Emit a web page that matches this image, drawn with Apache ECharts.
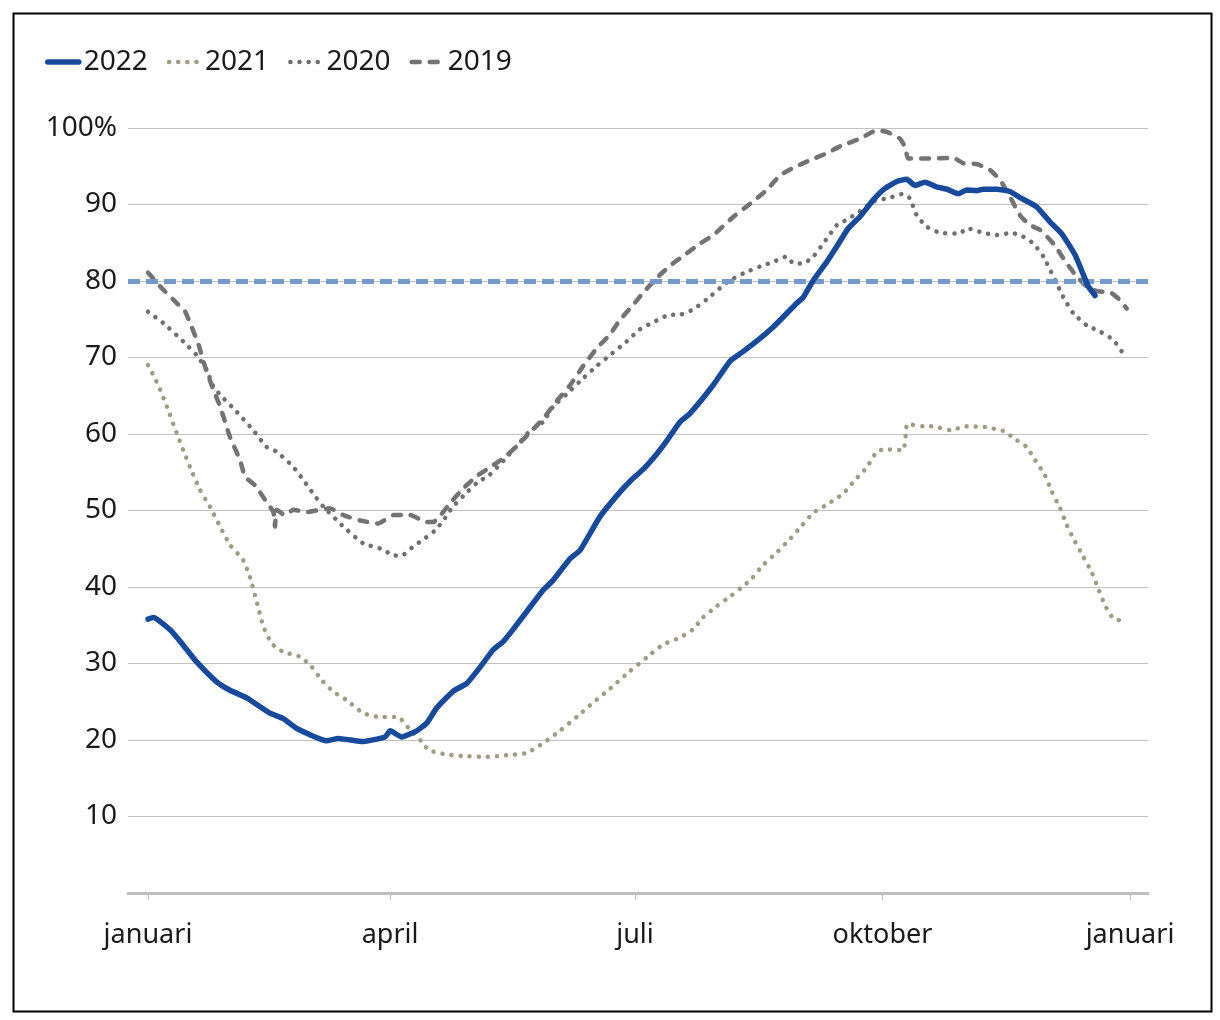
<!DOCTYPE html>
<html>
<head>
<meta charset="utf-8">
<script src="https://cdn.jsdelivr.net/npm/echarts@6/dist/echarts.min.js"></script>
<style>
html,body{margin:0;padding:0;background:#fff;}
#c{width:1220px;height:1020px;}
</style>
</head>
<body>
<div id="c"></div>
<script>
// x positions are day-of-year
const tickDays = [0, 90, 181, 273, 365];
const tickNames = ['januari', 'april', 'juli', 'oktober', 'januari'];
const target = 80;

const days2022 = [0, 2.0, 8.2, 13.1, 18.1, 25.5, 30.5, 36.7, 45.3, 50.3, 55.3, 66.4, 70.7, 80.0, 88.1, 90.0, 94.3, 99.9, 103.6, 107.3, 113.5, 118.5, 123.4, 128.3, 132.1, 135.8, 140.8, 146.9, 150.6, 156.9, 160.6, 168.0, 175.4, 179.1, 184.1, 189.1, 192.8, 197.8, 201.5, 210.1, 216.3, 221.3, 227.5, 232.4, 236.1, 241.1, 243.6, 247.3, 252.3, 256.0, 260.3, 264.6, 269.6, 273.9, 278.3, 282.0, 285.1, 288.8, 293.1, 296.9, 301.2, 304.3, 308.0, 310.5, 315.5, 320.4, 324.1, 330.3, 335.3, 339.6, 344.6, 347.7, 349.5, 352.0];
const vals2022 = [35.8, 36.0, 34.4, 32.4, 30.2, 27.6, 26.5, 25.5, 23.5, 22.8, 21.5, 19.9, 20.2, 19.8, 20.4, 21.2, 20.4, 21.2, 22.2, 24.2, 26.4, 27.4, 29.5, 31.8, 32.9, 34.5, 36.8, 39.6, 40.9, 43.7, 44.8, 49.2, 52.4, 53.8, 55.4, 57.4, 59.1, 61.6, 62.7, 66.4, 69.5, 70.8, 72.5, 74.0, 75.3, 77.1, 77.9, 80.1, 82.5, 84.5, 86.9, 88.4, 90.6, 92.1, 93.0, 93.3, 92.5, 92.9, 92.3, 92.0, 91.4, 91.9, 91.8, 92.0, 92.0, 91.7, 90.9, 89.7, 87.7, 86.2, 83.4, 80.8, 79.3, 78.1];

const days2021 = [0, 2.0, 4.5, 7.0, 10.7, 13.1, 15.6, 19.3, 23.0, 26.8, 30.5, 35.4, 37.9, 40.4, 42.9, 46.0, 50.3, 56.5, 60.8, 64.6, 68.9, 73.9, 80.0, 86.2, 93.0, 97.4, 101.7, 104.2, 111.0, 117.2, 125.9, 133.3, 140.8, 146.9, 153.1, 159.3, 165.5, 171.7, 179.1, 185.4, 191.5, 197.8, 202.7, 206.2, 211.4, 216.9, 221.9, 224.4, 228.7, 233.7, 238.4, 243.0, 247.3, 252.9, 258.4, 262.8, 267.1, 270.9, 273.9, 280.7, 281.7, 282.2, 288.2, 291.9, 298.1, 304.3, 311.1, 317.9, 322.9, 326.6, 329.7, 333.4, 335.9, 339.0, 341.5, 344.6, 347.6, 350.8, 353.2, 355.7, 358.8, 363.1];
const vals2021 = [69.0, 67.7, 65.8, 63.6, 60.1, 57.9, 55.7, 52.7, 50.5, 47.9, 45.5, 43.5, 41.3, 38.1, 34.8, 32.6, 31.5, 30.9, 29.6, 27.8, 26.3, 25.2, 23.5, 23.0, 23.0, 21.3, 19.8, 18.7, 18.1, 17.9, 17.8, 18.0, 18.3, 19.6, 21.2, 23.0, 24.9, 26.7, 29.0, 30.8, 32.5, 33.4, 34.5, 36.0, 37.5, 38.9, 40.3, 41.1, 42.9, 44.5, 46.2, 48.0, 49.7, 50.9, 52.2, 54.0, 55.6, 57.7, 58.0, 57.9, 60.1, 61.3, 61.0, 61.0, 60.5, 61.0, 60.9, 60.4, 59.2, 58.3, 56.6, 54.6, 52.5, 50.3, 48.1, 45.9, 44.0, 41.9, 39.8, 37.6, 35.9, 35.5];

const days2020 = [0, 5.7, 13.1, 18.1, 21.8, 24.3, 27.4, 33.0, 39.1, 44.1, 47.8, 54.0, 57.7, 61.4, 65.2, 72.6, 80.0, 87.5, 91.2, 94.9, 98.6, 102.3, 106.7, 109.8, 112.9, 117.2, 122.2, 127.1, 132.1, 137.0, 141.4, 146.9, 150.6, 155.6, 160.6, 166.8, 171.7, 177.9, 182.9, 187.8, 194.0, 197.8, 202.7, 207.7, 215.1, 221.3, 227.5, 232.4, 237.4, 239.9, 243.6, 247.3, 251.0, 256.0, 259.7, 264.6, 269.6, 275.8, 280.7, 283.2, 285.7, 289.4, 294.4, 301.8, 304.3, 310.5, 315.5, 321.0, 325.3, 329.1, 332.8, 336.5, 340.2, 343.9, 348.9, 353.8, 358.8, 362.5];
const vals2020 = [76.0, 74.5, 72.1, 70.3, 68.4, 66.2, 64.9, 62.9, 60.5, 58.3, 57.7, 55.7, 54.0, 52.2, 50.5, 47.9, 45.7, 44.9, 44.1, 44.2, 45.3, 46.2, 47.4, 48.7, 50.3, 51.9, 53.6, 54.7, 56.5, 58.4, 60.2, 61.6, 63.6, 65.2, 66.9, 68.9, 70.3, 72.1, 73.7, 74.6, 75.6, 75.6, 76.3, 77.6, 79.8, 81.0, 81.9, 82.5, 83.2, 82.3, 82.3, 83.2, 84.9, 87.3, 88.0, 89.1, 90.4, 90.9, 91.4, 90.8, 88.6, 87.1, 86.3, 86.2, 86.9, 86.3, 86.0, 86.3, 85.8, 84.9, 83.2, 80.6, 77.9, 75.8, 74.2, 73.4, 72.3, 70.5];

const days2019 = [0, 4.5, 10.7, 13.8, 16.2, 18.7, 21.2, 24.3, 26.8, 30.5, 34.2, 36.1, 39.8, 43.5, 46.6, 47.2, 47.8, 50.9, 54.0, 59.0, 67.6, 72.6, 78.8, 85.6, 91.2, 97.4, 103.6, 106.0, 112.9, 117.2, 122.2, 127.8, 132.7, 137.0, 142.0, 146.9, 151.9, 156.9, 161.8, 166.8, 171.7, 175.4, 180.4, 184.1, 189.1, 194.0, 199.0, 205.2, 210.1, 217.6, 223.8, 230.0, 234.9, 239.9, 246.1, 252.3, 257.2, 264.6, 270.9, 274.6, 279.5, 281.4, 282.6, 289.4, 299.3, 303.0, 308.0, 313.0, 316.7, 320.4, 324.1, 327.8, 331.5, 336.5, 341.5, 345.2, 348.9, 352.6, 358.2, 361.3, 363.8];
const vals2019 = [81.1, 79.3, 77.1, 76.0, 74.0, 71.8, 68.8, 65.8, 63.6, 59.6, 56.6, 54.4, 53.3, 51.4, 49.8, 47.9, 50.1, 49.4, 50.1, 49.8, 50.3, 49.4, 48.7, 48.3, 49.4, 49.4, 48.5, 48.5, 51.2, 52.9, 54.5, 55.8, 57.0, 58.4, 60.2, 62.0, 64.3, 66.4, 68.9, 71.2, 73.0, 74.9, 76.9, 78.5, 80.4, 82.0, 83.3, 84.9, 86.0, 88.4, 90.1, 91.9, 93.8, 94.8, 95.8, 96.7, 97.6, 98.6, 99.7, 99.5, 98.6, 97.5, 96.0, 96.0, 96.1, 95.4, 95.3, 94.5, 93.2, 91.0, 88.6, 87.3, 86.7, 84.9, 82.3, 80.6, 79.3, 78.7, 78.4, 77.5, 76.4];

const zip = (a, b) => a.map((d, i) => [d, b[i]]);
const FONT = "'Noto Sans', 'DejaVu Sans', sans-serif";

const st2022 = {color: '#174a9c', width: 5.5, type: 'solid', cap: 'round', join: 'round'};
const st2021 = {color: '#a09c84', width: 4.5, type: [0.1, 9], cap: 'round'};
const st2020 = {color: '#6f6f6f', width: 4.5, type: [0.1, 9], cap: 'round'};
const st2019 = {color: '#737373', width: 4.5, type: [8, 10], cap: 'round'};

const chart = echarts.init(document.getElementById('c'), null, {renderer: 'canvas'});
chart.setOption({
  animation: false,
  backgroundColor: '#ffffff',
  textStyle: {fontFamily: FONT},
  graphic: [{
    type: 'rect', left: 11, top: 11, z: 100, silent: true,
    shape: {width: 1198, height: 998},
    style: {fill: 'none', stroke: '#000000', lineWidth: 2}
  }],
  legend: {
    left: 40, top: 43,
    itemWidth: 31, itemHeight: 14, itemGap: 19,
    itemStyle: {opacity: 0},
    data: [
      {name: '2022', itemStyle: {opacity: 0}, lineStyle: st2022},
      {name: '2021', itemStyle: {opacity: 0}, lineStyle: st2021},
      {name: '2020', itemStyle: {opacity: 0}, lineStyle: st2020},
      {name: '2019', itemStyle: {opacity: 0}, lineStyle: st2019}
    ],
    textStyle: {fontFamily: FONT, fontSize: 28, color: '#1a1a1a'}
  },
  grid: {left: 128, right: 72, top: 128, bottom: 127, containLabel: false},
  xAxis: {
    type: 'value',
    min: -7.43, max: 371.69,
    splitLine: {show: false},
    axisLine: {show: true, lineStyle: {color: '#bfbfbf', width: 3}},
    axisTick: {show: true, customValues: tickDays, length: 7, lineStyle: {color: '#bfbfbf', width: 1}},
    axisLabel: {
      customValues: tickDays,
      margin: 29,
      fontFamily: FONT, fontSize: 27, color: '#1a1a1a',
      formatter: (v) => { const i = tickDays.indexOf(v); return i >= 0 ? tickNames[i] : ''; }
    }
  },
  yAxis: {
    type: 'value', min: 0, max: 100, interval: 10,
    axisLine: {show: false},
    axisTick: {show: false},
    axisLabel: {
      margin: 11, fontFamily: FONT, fontSize: 28, color: '#1a1a1a',
      formatter: (v) => v === 0 ? '' : (v === 100 ? '100%' : String(v))
    },
    splitLine: {show: true, lineStyle: {color: '#c0c0c0', width: 1}}
  },
  series: [
    {
      name: 'target', type: 'line', data: [], silent: true,
      markLine: {
        silent: true, symbol: 'none', label: {show: false},
        lineStyle: {color: '#729bcb', width: 5, type: [12, 6], cap: 'butt'},
        data: [{yAxis: target}]
      }
    },
    {
      name: '2021', type: 'line', data: zip(days2021, vals2021), showSymbol: false, symbol: 'none', smooth: 0.15,
      lineStyle: st2021, itemStyle: {color: st2021.color}
    },
    {
      name: '2020', type: 'line', data: zip(days2020, vals2020), showSymbol: false, symbol: 'none', smooth: 0.15,
      lineStyle: st2020, itemStyle: {color: st2020.color}
    },
    {
      name: '2019', type: 'line', data: zip(days2019, vals2019), showSymbol: false, symbol: 'none', smooth: 0.15,
      lineStyle: st2019, itemStyle: {color: st2019.color}
    },
    {
      name: '2022', type: 'line', data: zip(days2022, vals2022), showSymbol: false, symbol: 'none', smooth: 0.15,
      lineStyle: st2022, itemStyle: {color: st2022.color}, z: 5
    }
  ]
});
</script>
</body>
</html>
